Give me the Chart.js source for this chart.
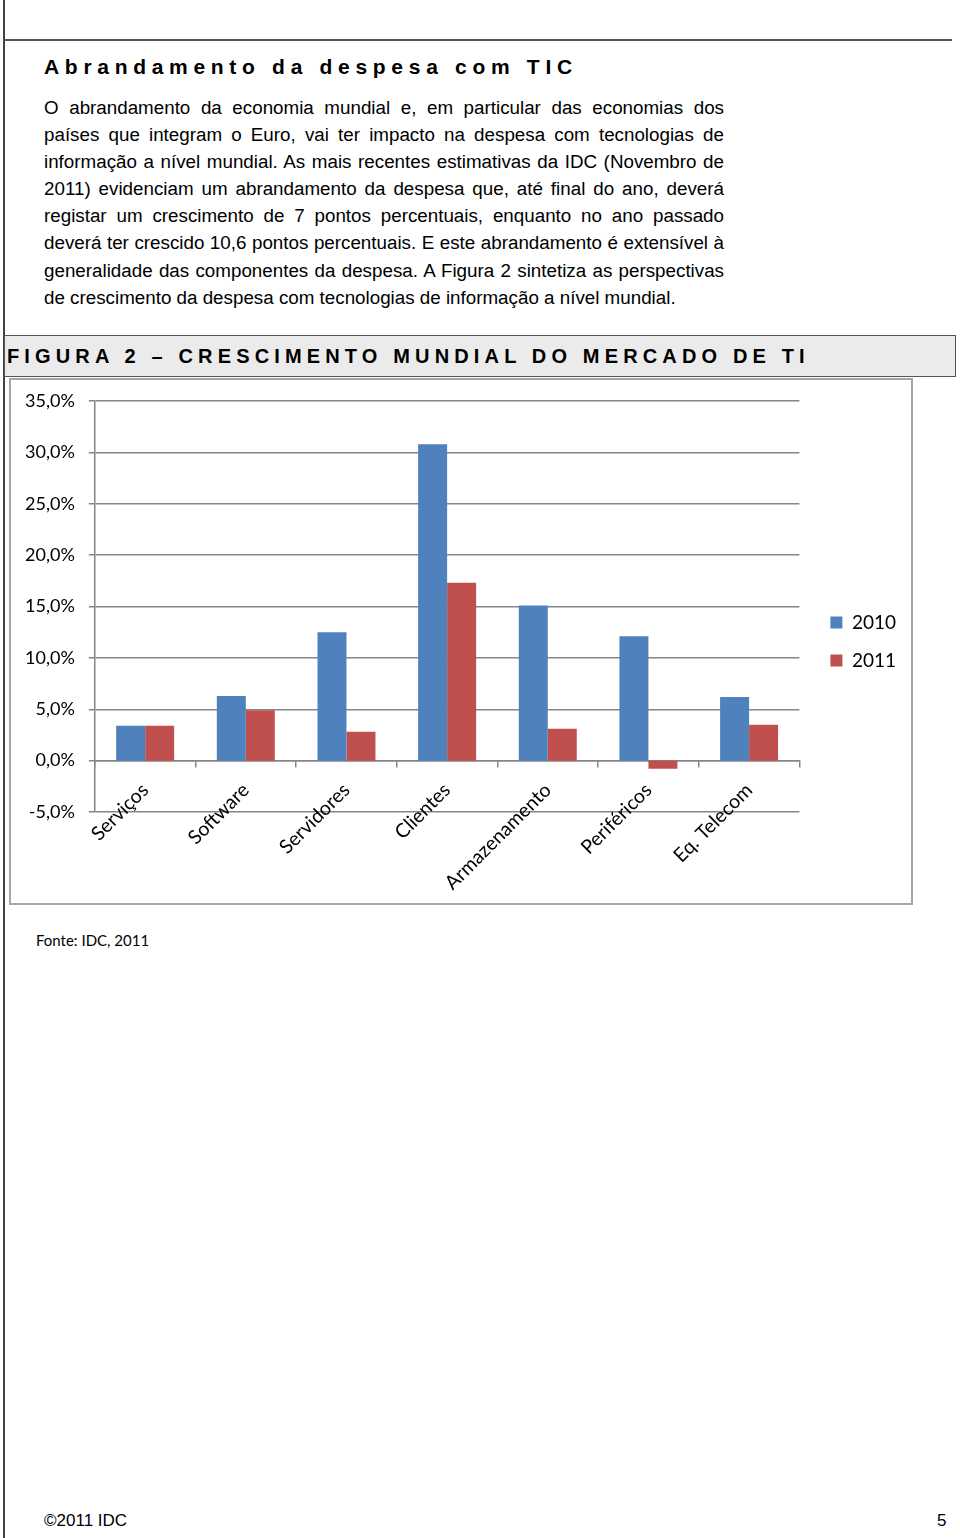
<!DOCTYPE html>
<html lang="pt">
<head>
<meta charset="utf-8">
<script src="https://cdn.jsdelivr.net/npm/chart.js@4.4.0/dist/chart.umd.min.js"></script>
<style>
  body { margin: 0; width: 960px; height: 1538px; background: #fff; position: relative; overflow: hidden;
         font-family: "Liberation Sans", Arial, sans-serif; color: #000; }
  .vline { position: absolute; left: 3px; top: 0; width: 2px; height: 1538px; background: #444; }
  .hline { position: absolute; left: 4px; top: 39px; width: 948px; height: 2px; background: #555; }
  h1 { position: absolute; left: 44px; top: 55px; margin: 0; font-size: 21px; font-weight: bold; letter-spacing: 5.7px; }
  .para { position: absolute; left: 44px; top: 94px; width: 680px; font-size: 18.8px; line-height: 27.1px; }
  .para div { text-align: justify; text-align-last: justify; white-space: nowrap; }
  .para div.last { text-align-last: left; }
  .banner { position: absolute; left: 4px; top: 335px; width: 952px; height: 42px; box-sizing: border-box;
            background: #ebebeb; border: 1px solid #555; }
  .banner span { position: absolute; left: 2px; top: 9px; font-weight: bold; font-size: 20px; letter-spacing: 5.15px; white-space: nowrap; }
  .chartbox { position: absolute; left: 9px; top: 378px; width: 904px; height: 527px; box-sizing: border-box;
              border: 2px solid #a6a6a6; background: #fff; }
  .chartbox canvas { display: block; }
  .fonte { position: absolute; left: 36px; top: 931px; font-family: Lato, sans-serif; font-size: 15px; }
  .foot { position: absolute; top: 1511px; font-size: 17px; }
</style>
</head>
<body>
<div class="vline"></div>
<div class="hline"></div>
<h1>Abrandamento da despesa com TIC</h1>
<div class="para">
  <div>O abrandamento da economia mundial e, em particular das economias dos</div>
  <div>países que integram o Euro, vai ter impacto na despesa com tecnologias de</div>
  <div>informação a nível mundial. As mais recentes estimativas da IDC (Novembro de</div>
  <div>2011) evidenciam um abrandamento da despesa que, até final do ano, deverá</div>
  <div>registar um crescimento de 7 pontos percentuais, enquanto no ano passado</div>
  <div>deverá ter crescido 10,6 pontos percentuais. E este abrandamento é extensível à</div>
  <div>generalidade das componentes da despesa. A Figura 2 sintetiza as perspectivas</div>
  <div class="last">de crescimento da despesa com tecnologias de informação a nível mundial.</div>
</div>
<div class="banner"><span>FIGURA 2 – CRESCIMENTO MUNDIAL DO MERCADO DE TI</span></div>
<div class="chartbox"><canvas id="chart" width="900" height="523"></canvas></div>
<div class="fonte">Fonte: IDC, 2011</div>
<div class="foot" style="left:44px;">©2011 IDC</div>
<div class="foot" style="left:937px;">5</div>

<script>
const categories = ["Serviços", "Software", "Servidores", "Clientes", "Armazenamento", "Periféricos", "Eq. Telecom"];
const seriesNames = ["2010", "2011"];
const growth2010 = [3.4, 6.3, 12.5, 30.8, 15.1, 12.1, 6.2];
const growth2011 = [3.4, 4.9, 2.8, 17.3, 3.1, -0.8, 3.5];
const seriesColors = ["#4f81bd", "#c0504d"];
const yMin = -5;
const yMax = 35;
const yStep = 5;

const gridColor = "#868686";

const noPadding = (scale) => {
	scale.paddingLeft = 0;
	scale.paddingRight = 0;
	scale.paddingTop = 0;
	scale.paddingBottom = 0;
};

const ctx = document.getElementById("chart");

new Chart(ctx, {
	type: "bar",
	data: {
		labels: categories,
		datasets: [
			{ label: seriesNames[0], data: growth2010, backgroundColor: seriesColors[0] },
			{ label: seriesNames[1], data: growth2011, backgroundColor: seriesColors[1] },
		],
	},
	options: {
		responsive: false,
		animation: false,
		categoryPercentage: 0.576,
		barPercentage: 1,
		layout: {
			padding: { left: 0, right: 5, top: 21, bottom: 21 },
		},
		plugins: {
			tooltip: { enabled: false },
			legend: {
				position: "right",
				labels: {
					boxWidth: 12,
					boxHeight: 12,
					padding: 19,
					color: "#000",
					font: { family: "Lato", size: 19 },
				},
			},
		},
		scales: {
			// category axis drawn on the zero line, labels hang below it like in Excel
			x: {
				position: { y: 0 },
				offset: true,
				grid: { offset: true, drawOnChartArea: false, tickLength: 6, color: gridColor, lineWidth: 1.5 },
				border: { color: gridColor, width: 1.5 },
				ticks: {
					minRotation: 45,
					maxRotation: 45,
					padding: 12,
					color: "#000",
					font: { family: "Lato", size: 19.5 },
				},
				afterFit: noPadding,
			},
			// empty axes, only reserve room under the plot and before the legend
			xSpace: {
				type: "linear",
				position: "bottom",
				grid: { display: false },
				border: { display: false },
				ticks: { display: false },
				afterFit: (scale) => { noPadding(scale); scale.height = 70; },
			},
			gap: {
				type: "linear",
				position: "right",
				grid: { display: false },
				border: { display: false },
				ticks: { display: false },
				afterFit: (scale) => { noPadding(scale); scale.width = 12; },
			},
			y: {
				min: yMin,
				max: yMax,
				ticks: {
					stepSize: yStep,
					padding: 14,
					color: "#000",
					font: { family: "Lato", size: 18 },
					callback: (v) => v.toFixed(1).replace(".", ",") + "%",
				},
				grid: { color: gridColor, lineWidth: 1.5, tickLength: 6 },
				border: { color: gridColor, width: 1.5 },
				afterFit: noPadding,
			},
		},
	},
});
</script>
</body>
</html>
